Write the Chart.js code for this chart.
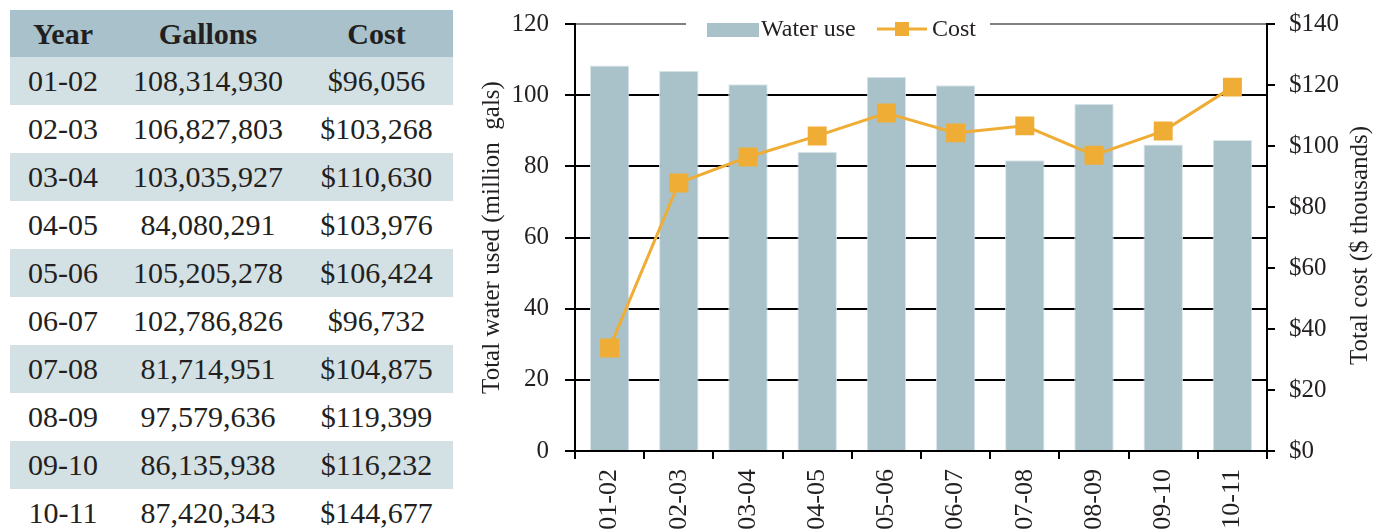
<!DOCTYPE html>
<html>
<head>
<meta charset="utf-8">
<script src="https://cdn.jsdelivr.net/npm/chart.js@4/dist/chart.umd.min.js"></script>
<style>
  body { margin: 0; background: #fff; width: 1386px; height: 531px; overflow: hidden; position: relative; }
  table { position: absolute; left: 10px; top: 10px; width: 443px; border-collapse: collapse;
          font-family: 'Liberation Serif', 'DejaVu Serif', serif; font-size: 30px; color: #231f20; }
  th, td { padding: 0; text-align: center; vertical-align: middle; }
  th { height: 47px; background: #a9c1ca; font-weight: bold; }
  td { height: 48px; }
  tbody tr:nth-child(odd) td { background: #d3e0e4; }
  #wrap { position: absolute; left: 460px; top: 0; width: 926px; height: 531px; }
</style>
</head>
<body>
<table id="tbl">
  <colgroup><col style="width:106px"><col style="width:184px"><col style="width:153px"></colgroup>
  <thead><tr><th>Year</th><th>Gallons</th><th>Cost</th></tr></thead>
  <tbody></tbody>
</table>
<div id="wrap"><canvas id="waterChart" width="926" height="531"></canvas></div>
<script>
// water use vs cost

const years = ['01-02', '02-03', '03-04', '04-05', '05-06', '06-07', '07-08', '08-09', '09-10', '10-11'];
const gallons = [108314930, 106827803, 103035927, 84080291, 105205278, 102786826, 81714951, 97579636, 86135938, 87420343];
const tableCost = [96056, 103268, 110630, 103976, 106424, 96732, 104875, 119399, 116232, 144677];
// cost line as plotted (right axis, $ thousands)
const plottedCost = [33.8, 87.9, 96.4, 103.3, 110.8, 104.3, 106.6, 97.0, 104.9, 119.3];
const waterTicks = [0, 120, 20];   // min, max, step
const costTicks = [0, 140, 20];
const costTitle = 'Total cost ($ thousands)';

const fmt = n => n.toLocaleString('en-US');

// table
const tbody = document.querySelector('#tbl tbody');
for (let i = 0; i < years.length; i++) {
    const tr = document.createElement('tr');
    tr.innerHTML = '<td>' + years[i] + '</td><td>' + fmt(gallons[i]) + '</td><td>$' + fmt(tableCost[i]) + '</td>';
    tbody.appendChild(tr);
}

const waterMillions = gallons.map(g => g / 1e6);
const serif = "'Liberation Serif', 'DejaVu Serif', serif";
const barColor = '#a9c2ca';
const lineColor = '#efad35';

// legend sits on the top gridline, with a white box behind it
// right axis title reads bottom-to-top like the left one
const boxLegend = {
    id: 'boxLegend',
    afterDraw(chart) {
        const ctx = chart.ctx;
        const area = chart.chartArea;
        const x0 = area.left + 113;
        const y = area.top + 5;
        ctx.save();
        ctx.fillStyle = '#fff';
        ctx.fillRect(x0 - 2, area.top - 12, 304, 28);
        ctx.fillStyle = barColor;
        ctx.fillRect(x0 + 19, y - 6, 52, 14);
        ctx.fillStyle = '#231f20';
        ctx.font = '24px ' + serif;
        ctx.textBaseline = 'middle';
        ctx.fillText(chart.data.datasets[0].label, x0 + 73, y + 1);
        ctx.strokeStyle = lineColor;
        ctx.lineWidth = 3;
        ctx.beginPath();
        ctx.moveTo(x0 + 189, y);
        ctx.lineTo(x0 + 239, y);
        ctx.stroke();
        ctx.fillStyle = lineColor;
        ctx.fillRect(x0 + 207, y - 7, 14, 14);
        ctx.fillStyle = '#231f20';
        ctx.fillText(chart.data.datasets[1].label, x0 + 244, y + 1);

        ctx.font = '25px ' + serif;
        ctx.textAlign = 'center';
        ctx.translate(chart.width - 26, (area.top + area.bottom) / 2 + 8);
        ctx.rotate(-Math.PI / 2);
        ctx.fillText(costTitle, 0, 0);
        ctx.restore();
    }
};

const noPad = s => { s.paddingTop = 4; s.paddingBottom = 4; };

const chart = new Chart(document.getElementById('waterChart'), {
    type: 'bar',
    data: {
        labels: years,
        datasets: [{
            label: 'Water use',
            data: waterMillions,
            backgroundColor: barColor,
            borderColor: '#dce7ea',
            borderWidth: 1,
            barPercentage: 0.57,
            categoryPercentage: 1,
            yAxisID: 'y',
            order: 1
        }, {
            type: 'line',
            label: 'Cost',
            data: plottedCost,
            borderColor: lineColor,
            backgroundColor: lineColor,
            borderWidth: 3,
            tension: 0,
            pointStyle: 'rect',
            pointRadius: 13.4,
            pointHoverRadius: 13.4,
            pointBorderWidth: 0,
            yAxisID: 'y1',
            order: 0
        }]
    },
    options: {
        responsive: false,
        animation: false,
        layout: { padding: { top: 24, left: 0, right: 0, bottom: 0 } },
        plugins: {
            legend: { display: false },
            tooltip: { enabled: false }
        },
        scales: {
            x: {
                afterFit: s => { s.height = 80; },
                grid: { offset: true, drawOnChartArea: false, drawTicks: true, tickLength: 8, color: '#000', lineWidth: 2 },
                border: { color: '#000', width: 2 },
                ticks: { minRotation: 90, maxRotation: 90, padding: 10, color: '#231f20', font: { family: serif, size: 26 } }
            },
            y: {
                position: 'left',
                min: waterTicks[0], max: waterTicks[1],
                afterFit: s => { s.width = 115; noPad(s); },
                grid: {
                    color: c => c.tick && c.tick.value === waterTicks[1] ? '#808080' : '#000',
                    tickColor: '#000', lineWidth: 2, tickLength: 10
                },
                border: { color: '#000', width: 2 },
                ticks: { stepSize: waterTicks[2], padding: 16, color: '#231f20', font: { family: serif, size: 25 } },
                title: { display: true, text: 'Total water used (million  gals)', color: '#231f20',
                         font: { family: serif, size: 25 }, padding: { top: 17, bottom: 0 } }
            },
            y1: {
                position: 'right',
                min: costTicks[0], max: costTicks[1],
                afterFit: s => { s.width = 119; noPad(s); },
                grid: { drawOnChartArea: false, tickLength: 8, color: '#000', lineWidth: 2 },
                border: { color: '#000', width: 2 },
                ticks: { stepSize: costTicks[2], padding: 14, color: '#231f20', font: { family: serif, size: 25 },
                         callback: v => '$' + v }
            }
        }
    },
    plugins: [boxLegend]
});
</script>
</body>
</html>
